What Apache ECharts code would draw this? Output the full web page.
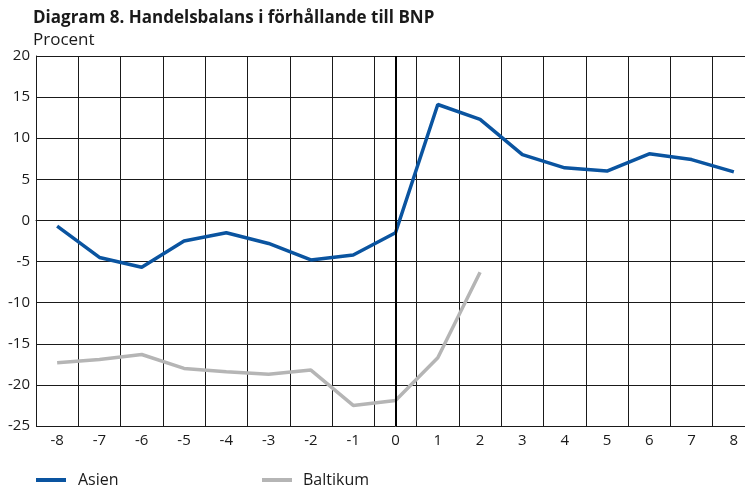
<!DOCTYPE html>
<html lang="sv">
<head>
  <meta charset="UTF-8">
  <title>Handelsbalans i förhållande till BNP</title>
  <style>
    html, body { margin: 0; padding: 0; background: #fff; overflow: hidden; }
    /* plottytan går utanför bildens högra kant, som i originalet */
    #main { width: 755px; height: 488px; }
  </style>
</head>
<body>
  <div id="main"></div>
  <script src="https://cdn.jsdelivr.net/npm/echarts@6/dist/echarts.min.js"></script>
  <script>
    // år i förhållande till krisen
    var years = ['-8', '-7', '-6', '-5', '-4', '-3', '-2', '-1', '0', '1', '2', '3', '4', '5', '6', '7', '8']
    var asien = [-0.7, -4.5, -5.7, -2.5, -1.5, -2.8, -4.8, -4.2, -1.5, 14.1, 12.3, 8.0, 6.4, 6.0, 8.1, 7.4, 5.9]
    var baltikum = [-17.3, -16.9, -16.3, -18.0, -18.4, -18.7, -18.2, -22.5, -21.9, -16.7, -6.3]

    var font = 'Open Sans'
    var ink = '#1a1a1a'
    var chart = echarts.init(document.getElementById('main'))

    var option = {
      animation: false,
      textStyle: { fontFamily: font },
      title: [
        {
          text: 'Diagram 8. Handelsbalans i förhållande till BNP',
          left: 33, top: 10, padding: 0,
          textStyle: { fontSize: 17, fontWeight: 'bold', color: ink, fontFamily: font }
        },
        {
          text: 'Procent',
          left: 33, top: 32, padding: 0,
          textStyle: { fontSize: 17, fontWeight: 'normal', color: ink, fontFamily: font }
        }
      ],
      legend: [
        {
          data: ['Asien'], left: 36, top: 472, padding: 0,
          icon: 'rect', itemWidth: 30, itemHeight: 4, itemGap: 10,
          textStyle: { fontSize: 16, color: ink, fontFamily: font, padding: [0, 0, 0, 7] }
        },
        {
          data: ['Baltikum'], left: 262, top: 472, padding: 0,
          icon: 'rect', itemWidth: 30, itemHeight: 4, itemGap: 10,
          textStyle: { fontSize: 16, color: ink, fontFamily: font, padding: [0, 0, 0, 6] }
        }
      ],
      grid: { left: 36, right: 0, top: 56, bottom: 62 },
      xAxis: {
        type: 'category',
        data: years,
        boundaryGap: true,
        axisLine: { show: true, lineStyle: { color: ink, width: 1 } },
        axisTick: { show: false },
        axisLabel: { fontSize: 15, color: ink, margin: 7 },
        splitLine: { show: true, lineStyle: { color: ink, width: 1 } }
      },
      yAxis: {
        type: 'value',
        min: -25, max: 20, interval: 5,
        axisLine: { show: true, lineStyle: { color: ink, width: 1 } },
        axisTick: { show: false },
        axisLabel: { fontSize: 15, color: ink, margin: 6 },
        splitLine: { show: true, lineStyle: { color: ink, width: 1 } }
      },
      series: [
        {
          name: 'Asien',
          type: 'line',
          data: asien,
          symbol: 'none',
          lineStyle: { color: '#0a54a0', width: 3.5 },
          itemStyle: { color: '#0a54a0' },
          z: 3,
          markLine: {
            silent: true,
            symbol: 'none',
            label: { show: false },
            lineStyle: { color: '#000', width: 2, type: 'solid' },
            data: [{ xAxis: '0' }]
          }
        },
        {
          name: 'Baltikum',
          type: 'line',
          data: baltikum,
          symbol: 'none',
          lineStyle: { color: '#b5b5b5', width: 3.5 },
          itemStyle: { color: '#b5b5b5' },
          z: 2
        }
      ]
    }

    chart.setOption(option)
  </script>
</body>
</html>
